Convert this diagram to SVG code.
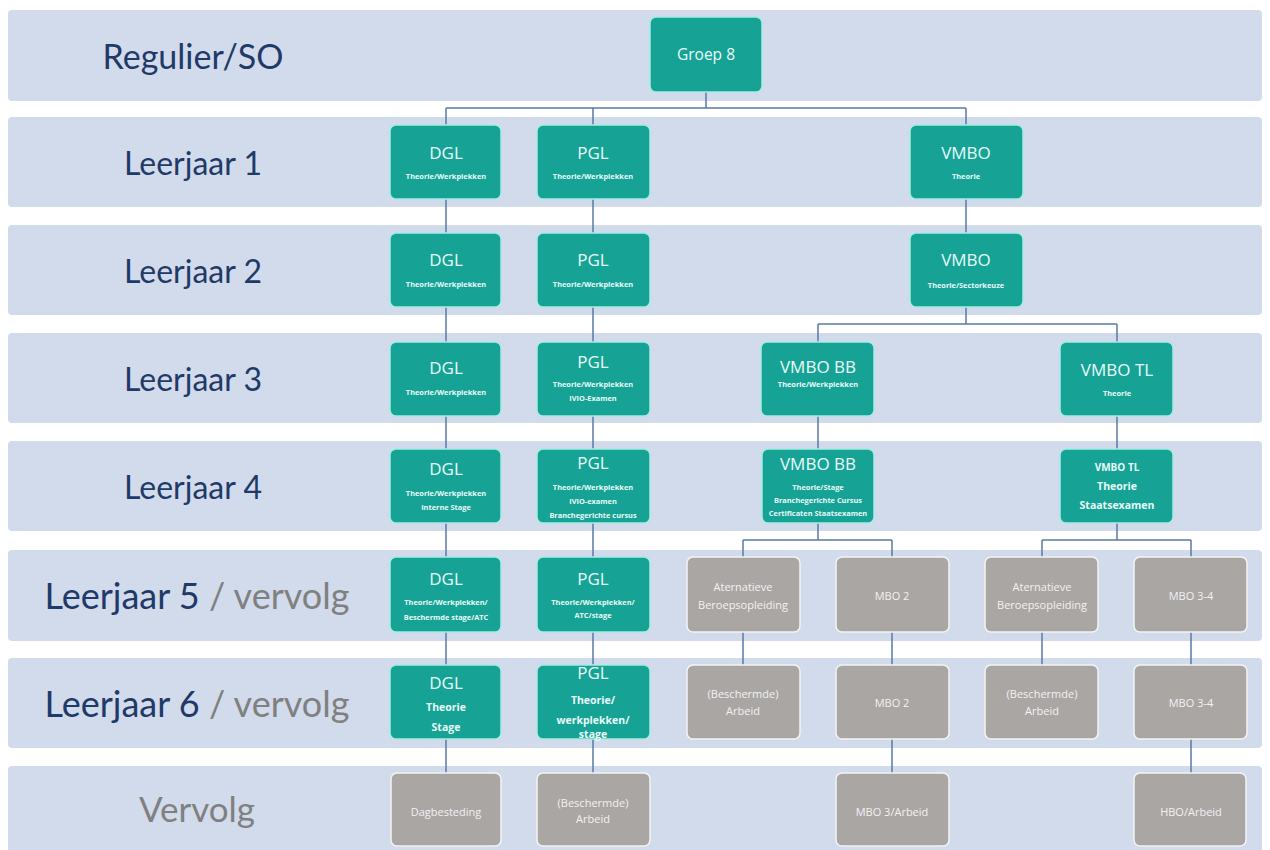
<svg xmlns="http://www.w3.org/2000/svg" width="1270" height="850" viewBox="0 0 1270 850">
<style>
.band{fill:#d1dbeb}
.lbl{font-family:Lato,"Liberation Sans",sans-serif;font-size:32px;fill:#1f3a68;text-anchor:middle;dominant-baseline:central}
.big{font-size:36px}
.gry{fill:#808080}
.t{fill:#16a295;stroke:#a6ebe3;stroke-width:1.5}
.g{fill:#aaa6a4;stroke:#f4f4f4;stroke-width:1.5}
.h{font-family:"Open Sans","Liberation Sans",sans-serif;font-size:17px;fill:#e8fbf8;text-anchor:middle;dominant-baseline:central}
.s{font-family:"Open Sans","Liberation Sans",sans-serif;font-size:7.4px;font-weight:bold;fill:#e8fbf8;text-anchor:middle;dominant-baseline:central}
.m{font-family:"Open Sans","Liberation Sans",sans-serif;font-size:10.5px;font-weight:bold;fill:#e8fbf8;text-anchor:middle;dominant-baseline:central}
.w{font-family:"Open Sans","Liberation Sans",sans-serif;font-size:11px;fill:#f2f2f2;text-anchor:middle;dominant-baseline:central}
.c{fill:none;stroke:#5a7aa6;stroke-width:1.5}
</style>
<g id="bands">
<rect class="band" x="8" y="10" width="1254" height="91" rx="4"/>
<rect class="band" x="8" y="117" width="1254" height="90" rx="4"/>
<rect class="band" x="8" y="225" width="1254" height="90" rx="4"/>
<rect class="band" x="8" y="333" width="1254" height="90" rx="4"/>
<rect class="band" x="8" y="441" width="1254" height="90" rx="4"/>
<rect class="band" x="8" y="550" width="1254" height="91" rx="4"/>
<rect class="band" x="8" y="658" width="1254" height="90" rx="4"/>
<rect class="band" x="8" y="766" width="1254" height="90" rx="4"/>
</g>
<g id="labels">
<text class="lbl" x="193" y="55" style="font-size:34px">Regulier/SO</text>
<text class="lbl" x="193" y="162">Leerjaar 1</text>
<text class="lbl" x="193" y="270">Leerjaar 2</text>
<text class="lbl" x="193" y="378">Leerjaar 3</text>
<text class="lbl" x="193" y="486">Leerjaar 4</text>
<text class="lbl big" x="197" y="595">Leerjaar 5<tspan class="gry"> / vervolg</tspan></text>
<text class="lbl big" x="197" y="703">Leerjaar 6<tspan class="gry"> / vervolg</tspan></text>
<text class="lbl gry" x="197" y="808" style="font-size:35px">Vervolg</text>
</g>
<g id="connectors">
<path class="c" d="M706 92V108M446 108H966M446 108V125M593 108V125M966 108V125"/>
<path class="c" d="M446 199V773M593 199V773"/>
<path class="c" d="M966 199V233M966 307V324M818 324H1117M818 324V342M1117 324V342"/>
<path class="c" d="M818 416V449M1117 416V449"/>
<path class="c" d="M818 523V540M743 540H892M743 540V557M892 540V557M1117 523V540M1042 540H1191M1042 540V557M1191 540V557"/>
<path class="c" d="M743 632V665M892 632V665M1042 632V665M1191 632V665"/>
<path class="c" d="M892 739V773M1191 739V773"/>
</g>
<g id="groep8"><rect class="t" x="650" y="17" width="112" height="75" rx="6"/><text class="h" x="706" y="54" style="font-size:15.5px">Groep 8</text></g>
<g id="dgl1"><rect class="t" x="390" y="125" width="111" height="74" rx="6"/><text class="h" x="446" y="152">DGL</text><text class="s" x="446" y="176">Theorie/Werkplekken</text></g>
<g id="pgl1"><rect class="t" x="537" y="125" width="113" height="74" rx="6"/><text class="h" x="593" y="152">PGL</text><text class="s" x="593" y="176">Theorie/Werkplekken</text></g>
<g id="vmbo1"><rect class="t" x="910" y="125" width="113" height="74" rx="6"/><text class="h" x="966" y="152">VMBO</text><text class="s" x="966" y="176">Theorie</text></g>
<g id="dgl2"><rect class="t" x="390" y="233" width="111" height="74" rx="6"/><text class="h" x="446" y="259">DGL</text><text class="s" x="446" y="284">Theorie/Werkplekken</text></g>
<g id="pgl2"><rect class="t" x="537" y="233" width="113" height="74" rx="6"/><text class="h" x="593" y="259">PGL</text><text class="s" x="593" y="284">Theorie/Werkplekken</text></g>
<g id="vmbo2"><rect class="t" x="910" y="233" width="113" height="74" rx="6"/><text class="h" x="966" y="259">VMBO</text><text class="s" x="966" y="285">Theorie/Sectorkeuze</text></g>
<g id="dgl3"><rect class="t" x="390" y="342" width="111" height="74" rx="6"/><text class="h" x="446" y="367">DGL</text><text class="s" x="446" y="392">Theorie/Werkplekken</text></g>
<g id="pgl3"><rect class="t" x="537" y="342" width="113" height="74" rx="6"/><text class="h" x="593" y="361">PGL</text><text class="s" x="593" y="384">Theorie/Werkplekken</text><text class="s" x="593" y="398">IVIO-Examen</text></g>
<g id="vmbobb3"><rect class="t" x="761" y="342" width="113" height="74" rx="6"/><text class="h" x="818" y="366">VMBO BB</text><text class="s" x="818" y="384">Theorie/Werkplekken</text></g>
<g id="vmbotl3"><rect class="t" x="1060" y="342" width="113" height="74" rx="6"/><text class="h" x="1117" y="369">VMBO TL</text><text class="s" x="1117" y="393">Theorie</text></g>
<g id="dgl4"><rect class="t" x="390" y="449" width="111" height="74" rx="6"/><text class="h" x="446" y="468">DGL</text><text class="s" x="446" y="493">Theorie/Werkplekken</text><text class="s" x="446" y="507">Interne Stage</text></g>
<g id="pgl4"><rect class="t" x="537" y="449" width="113" height="74" rx="6"/><text class="h" x="593" y="462">PGL</text><text class="s" x="593" y="487">Theorie/Werkplekken</text><text class="s" x="593" y="501">IVIO-examen</text><text class="s" x="593" y="515">Branchegerichte cursus</text></g>
<g id="vmbobb4"><rect class="t" x="762" y="449" width="112" height="74" rx="6"/><text class="h" x="818" y="463">VMBO BB</text><text class="s" x="818" y="487">Theorie/Stage</text><text class="s" x="818" y="500">Branchegerichte Cursus</text><text class="s" x="818" y="513">Certificaten Staatsexamen</text></g>
<g id="vmbotl4"><rect class="t" x="1060" y="449" width="113" height="74" rx="6"/><text class="m" x="1117" y="467" style="font-size:10px">VMBO TL</text><text class="m" x="1117" y="486">Theorie</text><text class="m" x="1117" y="505">Staatsexamen</text></g>
<g id="dgl5"><rect class="t" x="390" y="557" width="111" height="75" rx="6"/><text class="h" x="446" y="578">DGL</text><text class="s" x="446" y="602">Theorie/Werkplekken/</text><text class="s" x="446" y="617">Beschermde stage/ATC</text></g>
<g id="pgl5"><rect class="t" x="537" y="557" width="113" height="75" rx="6"/><text class="h" x="593" y="578">PGL</text><text class="s" x="593" y="602">Theorie/Werkplekken/</text><text class="s" x="593" y="615">ATC/stage</text></g>
<g id="alt5a"><rect class="g" x="687" y="557" width="113" height="75" rx="6"/><text class="w" x="743" y="586">Aternatieve</text><text class="w" x="743" y="604">Beroepsopleiding</text></g>
<g id="mbo2a"><rect class="g" x="836" y="557" width="113" height="75" rx="6"/><text class="w" x="892" y="595">MBO 2</text></g>
<g id="alt5b"><rect class="g" x="985" y="557" width="113" height="75" rx="6"/><text class="w" x="1042" y="586">Aternatieve</text><text class="w" x="1042" y="604">Beroepsopleiding</text></g>
<g id="mbo34a"><rect class="g" x="1134" y="557" width="113" height="75" rx="6"/><text class="w" x="1191" y="595">MBO 3-4</text></g>
<g id="dgl6"><rect class="t" x="390" y="665" width="111" height="74" rx="6"/><text class="h" x="446" y="682">DGL</text><text class="m" x="446" y="707">Theorie</text><text class="m" x="446" y="727">Stage</text></g>
<g id="pgl6"><rect class="t" x="537" y="665" width="113" height="74" rx="6"/><text class="h" x="593" y="672">PGL</text><text class="m" x="593" y="700">Theorie/</text><text class="m" x="593" y="720">werkplekken/</text><text class="m" x="593" y="734">stage</text></g>
<g id="arb6a"><rect class="g" x="687" y="665" width="113" height="74" rx="6"/><text class="w" x="743" y="693">(Beschermde)</text><text class="w" x="743" y="710">Arbeid</text></g>
<g id="mbo2b"><rect class="g" x="836" y="665" width="113" height="74" rx="6"/><text class="w" x="892" y="702">MBO 2</text></g>
<g id="arb6b"><rect class="g" x="985" y="665" width="113" height="74" rx="6"/><text class="w" x="1042" y="693">(Beschermde)</text><text class="w" x="1042" y="710">Arbeid</text></g>
<g id="mbo34b"><rect class="g" x="1134" y="665" width="113" height="74" rx="6"/><text class="w" x="1191" y="702">MBO 3-4</text></g>
<g id="dagb"><rect class="g" x="391" y="773" width="110" height="73" rx="6"/><text class="w" x="446" y="811">Dagbesteding</text></g>
<g id="arb7"><rect class="g" x="537" y="773" width="113" height="73" rx="6"/><text class="w" x="593" y="802">(Beschermde)</text><text class="w" x="593" y="818">Arbeid</text></g>
<g id="mbo3arb"><rect class="g" x="836" y="773" width="113" height="73" rx="6"/><text class="w" x="892" y="811">MBO 3/Arbeid</text></g>
<g id="hbo"><rect class="g" x="1134" y="773" width="112" height="73" rx="6"/><text class="w" x="1191" y="811">HBO/Arbeid</text></g>
</svg>
